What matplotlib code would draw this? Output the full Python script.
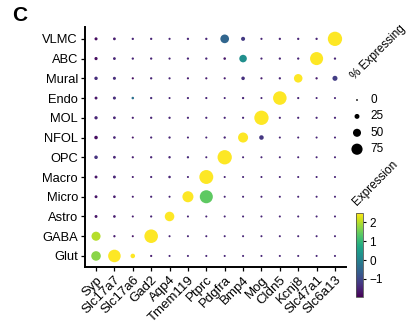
import numpy as np
import matplotlib.pyplot as plt
from matplotlib.colors import Normalize

plt.rcParams['font.family'] = ['Liberation Sans', 'DejaVu Sans']

genes = ['Syp', 'Slc17a7', 'Slc17a6', 'Gad2', 'Aqp4', 'Tmem119', 'Ptprc',
         'Pdgfra', 'Bmp4', 'Mog', 'Cldn5', 'Kcnj8', 'Slc47a1', 'Slc6a13']
# cell types, bottom row first
cell_types = ['Glut', 'GABA', 'Astro', 'Micro', 'Macro', 'OPC', 'NFOL',
              'MOL', 'Endo', 'Mural', 'ABC', 'VLMC']

# percent of cells expressing each gene
pct_expr = np.array([
    [62, 86, 22, 3, 2, 2, 2, 2, 2, 2, 2, 2, 2, 2],        # Glut
    [58, 4, 2, 94, 2, 2, 2, 2, 2, 2, 2, 2, 2, 2],         # GABA
    [9, 7, 2, 3, 62, 2, 2, 2, 2, 2, 2, 2, 2, 2],          # Astro
    [9, 7, 2, 3, 2, 74, 90, 2, 2, 2, 2, 2, 2, 2],         # Micro
    [9, 9, 2, 3, 6, 2, 97, 2, 2, 2, 2, 2, 2, 2],          # Macro
    [14, 8, 3, 4, 5, 4, 2, 100, 2, 2, 2, 2, 2, 2],        # OPC
    [14, 7, 2, 3, 4, 2, 2, 4, 66, 22, 2, 2, 2, 2],        # NFOL
    [12, 8, 3, 4, 4, 3, 3, 3, 3, 100, 3, 3, 3, 3],        # MOL
    [9, 10, 6, 4, 2, 3, 3, 2, 4, 2, 94, 3, 2, 2],         # Endo
    [13, 10, 3, 4, 3, 3, 3, 3, 14, 3, 4, 54, 4, 26],      # Mural
    [11, 8, 4, 4, 3, 4, 4, 6, 46, 3, 4, 4, 90, 4],        # ABC
    [10, 8, 4, 4, 3, 4, 4, 55, 18, 3, 4, 4, 4, 100],      # VLMC
])

# scaled average expression
avg_expr = np.array([
    [1.7, 2.5, 2.5, -1.6, -1.5, -1.5, -1.5, -1.5, -1.5, -1.5, -1.5, -1.5, -1.5, -1.5],
    [2.0, -1.6, -1.7, 2.5, -1.5, -1.5, -1.5, -1.5, -1.5, -1.5, -1.5, -1.5, -1.5, -1.5],
    [-1.7, -1.6, -1.6, -1.5, 2.5, -1.5, -1.5, -1.5, -1.5, -1.5, -1.5, -1.5, -1.5, -1.5],
    [-1.7, -1.6, -1.6, -1.5, -1.5, 2.5, 1.4, -1.5, -1.5, -1.5, -1.5, -1.5, -1.5, -1.5],
    [-1.7, -1.5, -1.6, -1.5, -1.5, -1.5, 2.5, -1.5, -1.5, -1.5, -1.5, -1.5, -1.5, -1.5],
    [-1.3, -1.5, -1.6, -1.5, -1.5, -1.4, -1.5, 2.5, -1.5, -1.5, -1.5, -1.5, -1.5, -1.5],
    [-1.8, -1.5, -1.7, -1.5, -1.5, -1.5, -1.5, -1.5, 2.5, -1.25, -1.5, -1.5, -1.5, -1.5],
    [-1.5, -1.5, -1.6, -1.5, -1.5, -1.5, -1.5, -1.5, -1.5, 2.5, -1.5, -1.5, -1.5, -1.5],
    [-1.7, -1.4, -0.3, -1.4, -1.5, -1.5, -1.5, -1.5, -1.5, -1.5, 2.5, -1.5, -1.5, -1.5],
    [-1.4, -1.4, -1.8, -1.5, -1.5, -1.6, -1.6, -1.6, -1.35, -1.6, -1.5, 2.5, -1.6, -1.15],
    [-1.8, -1.5, -1.5, -1.5, -1.5, -1.5, -1.5, -1.7, 0.25, -1.5, -1.5, -1.5, 2.5, -1.5],
    [-1.8, -1.6, -1.5, -1.5, -1.5, -1.5, -1.5, -0.5, -1.2, -1.5, -1.5, -1.5, -1.5, 2.5],
])

legend_pcts = [0, 25, 50, 75]
cbar_ticks = [-1, 0, 1, 2]
expr_min, expr_max = -1.96, 2.5


def dot_size(pct):
    # diameter in pixels grows linearly with percent, converted to pt^2
    d_px = 1.8 + 0.125 * np.asarray(pct, dtype=float)
    return (d_px * 0.72) ** 2


fig = plt.figure(figsize=(4.15, 3.26), dpi=100)
ax = fig.add_axes([85 / 415, 1 - 267 / 326, 261 / 415, 240 / 326])

xx, yy = np.meshgrid(np.arange(len(genes)), np.arange(len(cell_types)))
norm = Normalize(vmin=expr_min, vmax=expr_max)
sc = ax.scatter(xx.ravel(), yy.ravel(), s=dot_size(pct_expr.ravel()),
                c=avg_expr.ravel(), cmap='viridis', norm=norm, linewidths=0)

ax.set_xlim(-0.6, len(genes) - 0.4)
ax.set_ylim(-0.56, len(cell_types) - 0.4)
ax.set_xticks(range(len(genes)))
ax.set_xticklabels(genes, rotation=45, ha='right', va='top',
                   rotation_mode='anchor', fontsize=9.5)
ax.set_yticks(range(len(cell_types)))
ax.set_yticklabels(cell_types, fontsize=9.3)
for side in ['top', 'right']:
    ax.spines[side].set_visible(False)
for side in ['left', 'bottom']:
    ax.spines[side].set_linewidth(1.4)
ax.tick_params(length=3, width=0.9, pad=2, colors='black')

# size legend
lax = fig.add_axes([345 / 415, 1 - 158 / 326, 50 / 415, 66 / 326])
lax.set_xlim(345, 395)
lax.set_ylim(158, 92)
lax.axis('off')
ly = 100 + 16.4 * np.arange(len(legend_pcts))
lax.scatter(np.full(len(legend_pcts), 357), ly, s=dot_size(legend_pcts),
            c='black', linewidths=0)
for y, p in zip(ly, legend_pcts):
    lax.text(370, y, str(p), fontsize=8.5, va='center', ha='left')
fig.text(357 / 415, 1 - 82 / 326, '% Expressing', rotation=45,
         fontsize=8.5, ha='left', va='bottom', rotation_mode='anchor')

# colour bar
cax = fig.add_axes([356 / 415, 1 - 297 / 326, 7 / 415, 84 / 326])
cb = fig.colorbar(sc, cax=cax, ticks=cbar_ticks)
cb.ax.set_yticklabels(['\u22121' if t < 0 else str(t) for t in cbar_ticks])
cb.ax.tick_params(labelsize=8.5, length=2.5, width=0.8, pad=2)
cb.outline.set_linewidth(0.6)
cb.outline.set_edgecolor('#555555')
fig.text(359 / 415, 1 - 208 / 326, 'Expression', rotation=45,
         fontsize=8.5, ha='left', va='bottom', rotation_mode='anchor')

fig.text(12 / 415, 1 - 21 / 326, 'C', fontsize=15, fontweight='bold',
         ha='left', va='baseline')

fig.savefig('out.png', dpi=100)
